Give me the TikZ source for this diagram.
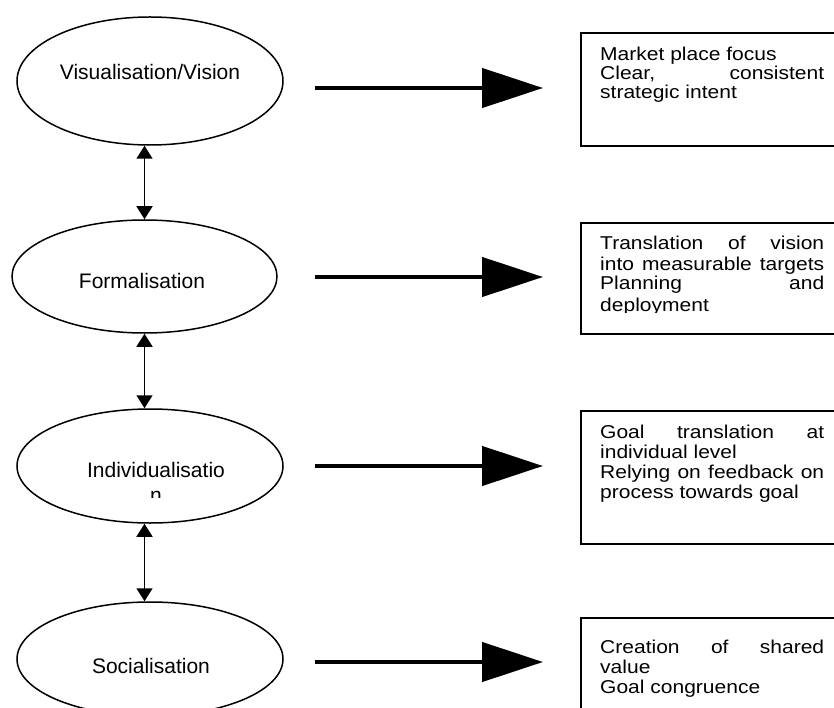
\documentclass[tikz,border=0pt]{standalone}
\usepackage{fontspec}
\setmainfont{Liberation Sans}
\newfontfamily\boxfont[FakeStretch=1.13]{Liberation Sans}
\usetikzlibrary{arrows.meta,shapes.geometric}
\begin{document}
\begin{tikzpicture}[x=1pt,y=-1pt,
  stage/.style={draw, line width=1.5pt, ellipse, inner sep=0pt},
  stagetext/.style={font=\fontsize{21}{25}\selectfont, inner sep=0pt, anchor=base},
  infobox/.style={draw, line width=2pt, rectangle, inner sep=0pt, anchor=north west},
  boxtext/.style={font=\boxfont\fontsize{18.6}{20}\selectfont, inner sep=0pt, anchor=base west},
  bigarrow/.style={line width=4.5pt, -{Triangle[length=61pt 0 0, width=39pt 0 0]}},
  linkarrow/.style={line width=1.5pt, {Triangle[length=13pt 0 0,width=16pt 0 0]}-{Triangle[length=13pt 0 0,width=16pt 0 0]}}
]
\clip (0,0) rectangle (834,708);
\fill[white] (0,0) rectangle (834,708);

% ellipses
\node[stage, minimum width=266pt, minimum height=128pt] (e1) at (150,81) {};
\node[stage, minimum width=265pt, minimum height=113pt] (e2) at (144.5,276.5) {};
\node[stage, minimum width=266pt, minimum height=114pt] (e3) at (150,466) {};
\node[stage, minimum width=266pt, minimum height=114pt] (e4) at (150,659) {};

\node[stagetext] (t1) at (150,80) {Visualisation/Vision};
\node[stagetext] (t2) at (142,288) {Formalisation};
\node[stagetext] (t3) at (156,477) {Individualisatio};
\begin{scope}
  \clip (130,485) rectangle (180,497);
  \node[stagetext] (t3b) at (156,502) {n};
\end{scope}
\node[stagetext] (t4) at (151,673) {Socialisation};

% vertical links
\draw[linkarrow] (e1.south -| e2.north) -- (e2.north);
\draw[linkarrow] (e2.south) -- (e2.south |- e3.north);
\draw[linkarrow] (e3.south -| e2.south) -- (e4.north -| e2.south);

% boxes
\node[infobox, minimum width=280pt, minimum height=113pt] (b1) at (580,32) {};
\node[infobox, minimum width=280pt, minimum height=111pt] (b2) at (580,222) {};
\node[infobox, minimum width=280pt, minimum height=133pt] (b3) at (580,410) {};
\node[infobox, minimum width=280pt, minimum height=130pt] (b4) at (580,617) {};

% horizontal arrows
\coordinate (h1s) at (315,88);   \coordinate (h1e) at (543,88);
\coordinate (h2s) at (315,277);  \coordinate (h2e) at (543,277);
\coordinate (h3s) at (315,466);  \coordinate (h3e) at (543,466);
\coordinate (h4s) at (315,662);  \coordinate (h4e) at (543,662);
\draw[bigarrow] (h1s) -- (h1e);
\draw[bigarrow] (h2s) -- (h2e);
\draw[bigarrow] (h3s) -- (h3e);
\draw[bigarrow] (h4s) -- (h4e);

% box texts
\node[boxtext] (b1l1) at (600,61) {Market place focus};
\node[boxtext] (b1l2) at (600,80) {\makebox[224pt][s]{Clear, consistent}};
\node[boxtext] (b1l3) at (600,99) {strategic intent};

\node[boxtext] (b2l1) at (600,250) {\makebox[224pt][s]{Translation of vision}};
\node[boxtext] (b2l2) at (600,270) {\makebox[224pt][s]{into measurable targets}};
\node[boxtext] (b2l3) at (600,290) {\makebox[224pt][s]{Planning and}};
\begin{scope}
  \clip (590,296) rectangle (830,312.5);
  \node[boxtext] (b2l4) at (600,311) {deployment};
\end{scope}

\node[boxtext] (b3l1) at (600,438) {\makebox[224pt][s]{Goal translation at}};
\node[boxtext] (b3l2) at (600,458) {individual level};
\node[boxtext] (b3l3) at (600,478) {\makebox[224pt][s]{Relying on feedback on}};
\node[boxtext] (b3l4) at (600,498) {process towards goal};

\node[boxtext] (b4l1) at (600,653) {\makebox[224pt][s]{Creation of shared}};
\node[boxtext] (b4l2) at (600,673) {value};
\node[boxtext] (b4l3) at (600,693) {Goal congruence};
\end{tikzpicture}
\end{document}
